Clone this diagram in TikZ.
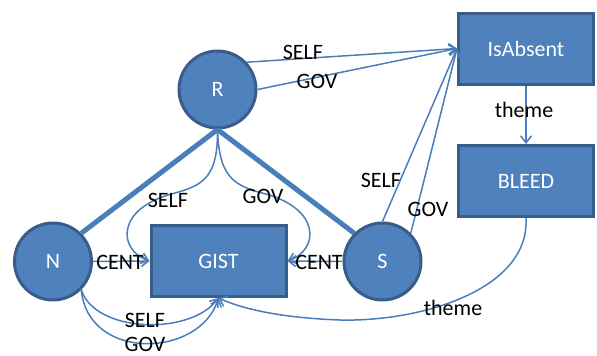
\documentclass[tikz,border=0pt]{standalone}
\usepackage{fontspec}
\setmainfont{Carlito}
\usetikzlibrary{arrows.meta}
\definecolor{nodefill}{HTML}{4F81BD}
\definecolor{nodeline}{HTML}{385D8A}
\definecolor{edgeblue}{HTML}{4A7EBB}
\begin{document}
\begin{tikzpicture}[x=1pt,y=-1pt,
  every node/.style={font=\fontsize{22}{26}\selectfont},
  entity/.style={circle,fill=nodefill,draw=nodeline,line width=3pt,
    minimum size=77pt,inner sep=0pt,text=white},
  concept/.style={rectangle,fill=nodefill,draw=nodeline,line width=3pt,
    minimum width=135pt,minimum height=71pt,inner sep=0pt,text=white},
  rel/.style={draw=edgeblue,line width=1.5pt,-{Straight Barb[length=7pt,width=11pt,line width=1.5pt]}},
  link/.style={draw=edgeblue,line width=5pt},
  lbl/.style={text=black,inner sep=0pt}]
\useasboundingbox (0,0) rectangle (597,356);

% entities and concepts
\node[entity] (R) at (217.5,89.5) {R};
\node[entity] (N) at (53,261.5) {N};
\node[entity] (S) at (382.5,261.5) {S};
\node[concept] (GIST) at (218.5,261) {GIST};
\node[concept] (ISA) at (526,48.5) {IsAbsent};
\node[concept] (BLEED) at (526,181) {BLEED};

% structural links from R
\draw[link] (R.south) -- (N.north east);
\draw[link] (R.south) -- (S.north west);

% R to GIST
\draw[rel] (R.south) .. controls (218,175) and (205,185) .. (175,193)
  .. controls (115,208) and (118,250) .. (GIST.west);
\draw[rel] (R.south) .. controls (219,175) and (232,185) .. (262,193)
  .. controls (322,208) and (319,250) .. (GIST.east);
\node[lbl] (lselfR) at (168,200) {SELF};
\node[lbl] (lgovR) at (263,196) {GOV};

% centrality
\draw[rel] (N.east) -- (GIST.west);
\draw[rel] (S.west) -- (GIST.east);
\node[lbl] (lcentN) at (120,262) {CENT};
\node[lbl] (lcentS) at (319,262) {CENT};

% N to GIST below
\draw[rel] (N.south east) .. controls (95,333) and (190,336) .. (GIST.south);
\draw[rel] (N.south east) .. controls (88,362) and (200,358) .. (GIST.south);
\node[lbl] (lselfN) at (145,320) {SELF};
\node[lbl] (lgovN) at (145,344) {GOV};

% BLEED theme back to GIST
\draw[rel] (BLEED.south) .. controls (530,290) and (420,322) .. (340,320)
  .. controls (285,318) and (245,310) .. (GIST.south);
\node[lbl] (lthemeB) at (453,308) {theme};

% links into IsAbsent
\draw[rel] (R.43) -- (ISA.west);
\draw[rel] (R.east) -- (ISA.west);
\draw[rel] (S.north) -- (ISA.west);
\draw[rel] (S.north east) -- (ISA.west);
\node[lbl] (lselfRI) at (303,52) {SELF};
\node[lbl] (lgovRI) at (317,81) {GOV};
\node[lbl] (lselfSI) at (381,180) {SELF};
\node[lbl] (lgovSI) at (428,209) {GOV};

% IsAbsent to BLEED
\draw[rel] (ISA.south) -- (BLEED.north);
\node[lbl] (lthemeI) at (524,110) {theme};
\end{tikzpicture}
\end{document}
